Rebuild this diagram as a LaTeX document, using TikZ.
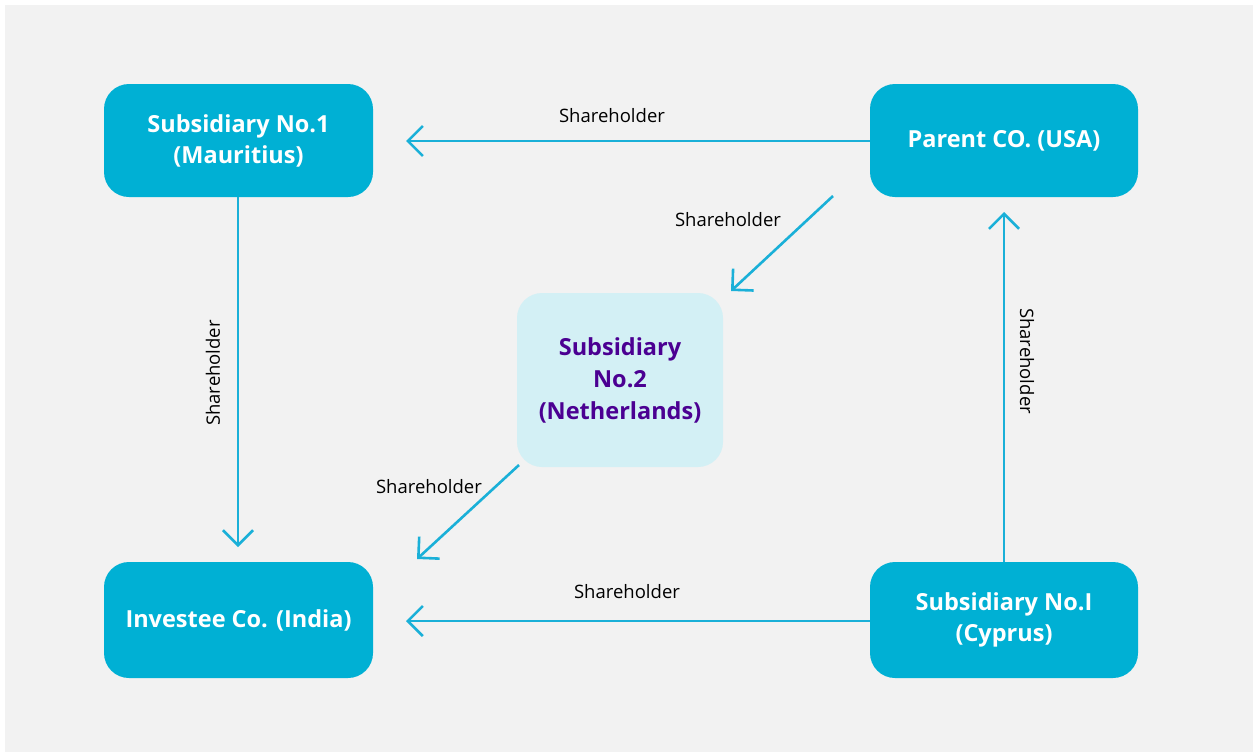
\documentclass[tikz,border=0pt]{standalone}
\usepackage{fontspec}
\setmainfont{Open Sans}
\usetikzlibrary{arrows.meta}
\definecolor{bg}{HTML}{F2F2F2}
\definecolor{boxc}{HTML}{00B0D4}
\definecolor{linec}{HTML}{1AB0D8}
\definecolor{lightbox}{HTML}{D3F0F5}
\definecolor{purp}{HTML}{4B0092}
\tikzset{
  mainbox/.style={draw=none, fill=boxc, rounded corners=25pt, text=white, font=\fontsize{23.5}{31}\selectfont\bfseries, align=center, inner sep=0pt},
  midbox/.style={draw=none, fill=lightbox, rounded corners=25pt, text=purp, font=\fontsize{23.5}{32}\selectfont\bfseries, align=center, inner sep=0pt},
  conn/.style={draw=linec, line width=2.6pt, -{Straight Barb[length=15pt,width=30pt,line width=2.6pt]}},
  lbl/.style={font=\fontsize{18.5}{22}\selectfont, text=black, inner sep=0pt},
}
\begin{document}
\begin{tikzpicture}[x=1pt,y=-1pt]
\useasboundingbox (0,0) rectangle (1253,753);
\fill[bg] (5,5) rectangle (1253,752);
\node[mainbox, minimum width=269pt, minimum height=113pt] (s1) at (238.5,140.5) {Subsidiary No.1\\(Mauritius)};
\node[mainbox, minimum width=268pt, minimum height=113pt] (par) at (1004,140.5) {Parent CO. (USA)};
\node[mainbox, minimum width=269pt, minimum height=116pt] (inv) at (238.5,620) {Investee Co. (India)};
\node[mainbox, minimum width=268pt, minimum height=116pt] (cyp) at (1004,620) {Subsidiary No.I\\(Cyprus)};
\node[midbox, minimum width=206pt, minimum height=174pt] (s2) at (620,380) {Subsidiary\\No.2\\(Netherlands)};
\coordinate (a1s) at (870,141);
\coordinate (a1e) at (406,141);
\coordinate (a2s) at (833,196);
\coordinate (a2e) at (731,291);
\coordinate (a3s) at (238,197);
\coordinate (a3e) at (238,547);
\coordinate (a4s) at (519,465);
\coordinate (a4e) at (417,559);
\coordinate (a5s) at (870,621);
\coordinate (a5e) at (406,621);
\coordinate (a6s) at (1004,562);
\coordinate (a6e) at (1004,212);
\draw[conn] (a1s) -- (a1e);
\draw[conn] (a2s) -- (a2e);
\draw[conn] (a3s) -- (a3e);
\draw[conn] (a4s) -- (a4e);
\draw[conn] (a5s) -- (a5e);
\draw[conn] (a6s) -- (a6e);
\node[lbl] (l1) at (612,116) {Shareholder};
\node[lbl] (l2) at (728,220) {Shareholder};
\node[lbl, rotate=90] (l3) at (213,373) {Shareholder};
\node[lbl] (l4) at (429,487) {Shareholder};
\node[lbl] (l5) at (627,592) {Shareholder};
\node[lbl, rotate=-90] (l6) at (1027,361) {Shareholder};
\end{tikzpicture}
\end{document}
